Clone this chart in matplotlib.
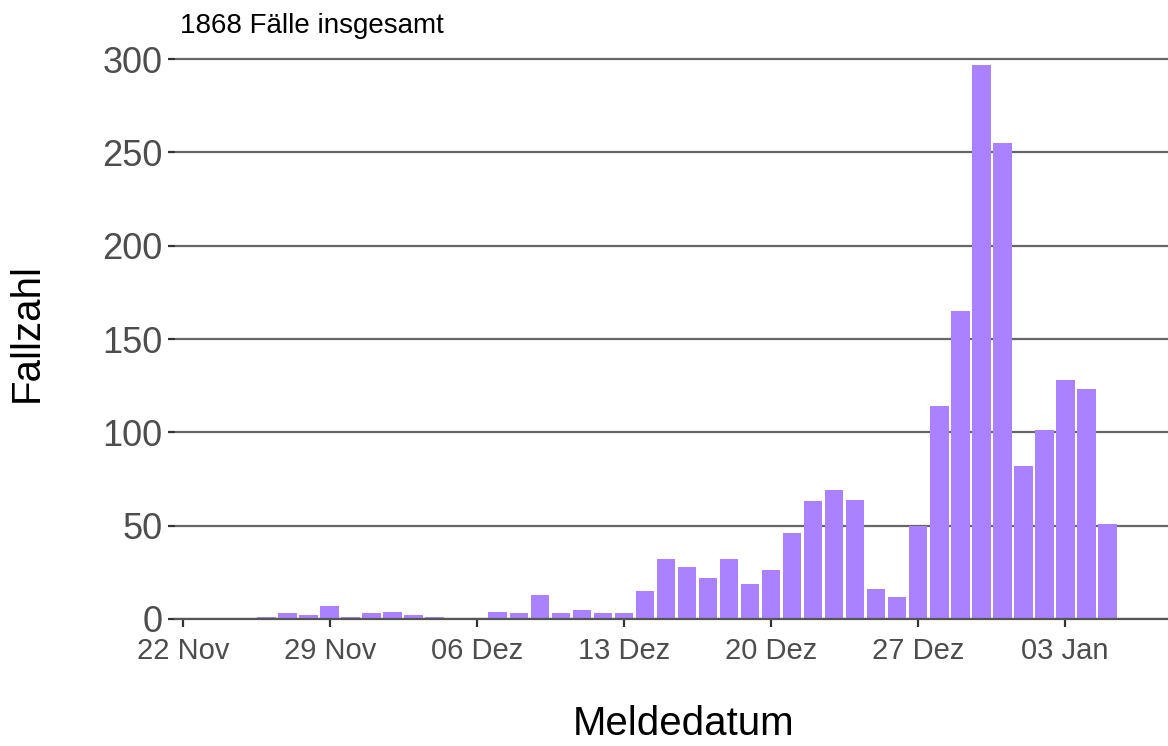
import matplotlib
matplotlib.use("Agg")
import matplotlib.pyplot as plt
import numpy as np
import pandas as pd

plt.rcParams['font.family'] = ['Liberation Sans', 'DejaVu Sans']

# daily reported cases, 26 Nov 2021 .. 05 Jan 2022
start_date = "2021-11-26"
cases = [1, 3, 2, 7, 1, 3, 4, 2, 1, 0, 0,        # 26 Nov - 06 Dez
         4, 3, 13, 3, 5, 3, 3, 15, 32, 28, 22,   # 07 Dez - 17 Dez
         32, 19, 26, 46, 63, 69, 64, 16, 12,     # 18 Dez - 26 Dez
         50, 114, 165, 297, 255, 82, 101, 128, 123, 51]  # 27 Dez - 05 Jan

tick_dates = ["2021-11-22", "2021-11-29", "2021-12-06", "2021-12-13",
              "2021-12-20", "2021-12-27", "2022-01-03"]
tick_labels = ["22 Nov", "29 Nov", "06 Dez", "13 Dez", "20 Dez", "27 Dez", "03 Jan"]
y_ticks = [0, 50, 100, 150, 200, 250, 300]

dates = pd.date_range(start_date, periods=len(cases), freq="D")
total = sum(cases)

fig = plt.figure(figsize=(11.68, 7.46), dpi=100)
ax = fig.add_axes([175 / 1168, 1 - 619 / 746, 1 - 175 / 1168, (619 - 46) / 746])

ax.bar(dates, cases, width=0.9, color="#AA82FF", linewidth=0, zorder=3)

ax.set_yticks(y_ticks)
ax.set_ylim(0, 307)
ax.yaxis.grid(True, color="#666666", linewidth=1.6, zorder=0)
ax.xaxis.grid(False)

ax.set_xticks(pd.to_datetime(tick_dates))
ax.set_xticklabels(tick_labels)
ax.set_xlim(pd.Timestamp("2021-11-22") - pd.Timedelta(hours=9),
            pd.Timestamp("2021-11-22") + pd.Timedelta(days=46.9))

for s in ["top", "right", "left"]:
    ax.spines[s].set_visible(False)
ax.spines["bottom"].set_color("#555555")
ax.spines["bottom"].set_linewidth(1.6)
ax.spines["bottom"].set_zorder(4)

ax.tick_params(axis="y", labelsize=26, labelcolor="#4D4D4D", color="#333333",
               length=5, width=1.6, pad=4)
ax.tick_params(axis="x", labelsize=21, labelcolor="#4D4D4D", color="#333333",
               length=6, width=1.6, pad=7)

ax.set_ylabel("Fallzahl", fontsize=29)
ax.set_xlabel("Meldedatum", fontsize=29)
ax.yaxis.set_label_coords(-0.13, 0.5)
ax.xaxis.set_label_coords(0.512, -0.15)

fig.text(180 / 1168, 1 - 26 / 746, f"{total} Fälle insgesamt", fontsize=20,
         va="center", ha="left")

fig.savefig("out.png", dpi=100)
